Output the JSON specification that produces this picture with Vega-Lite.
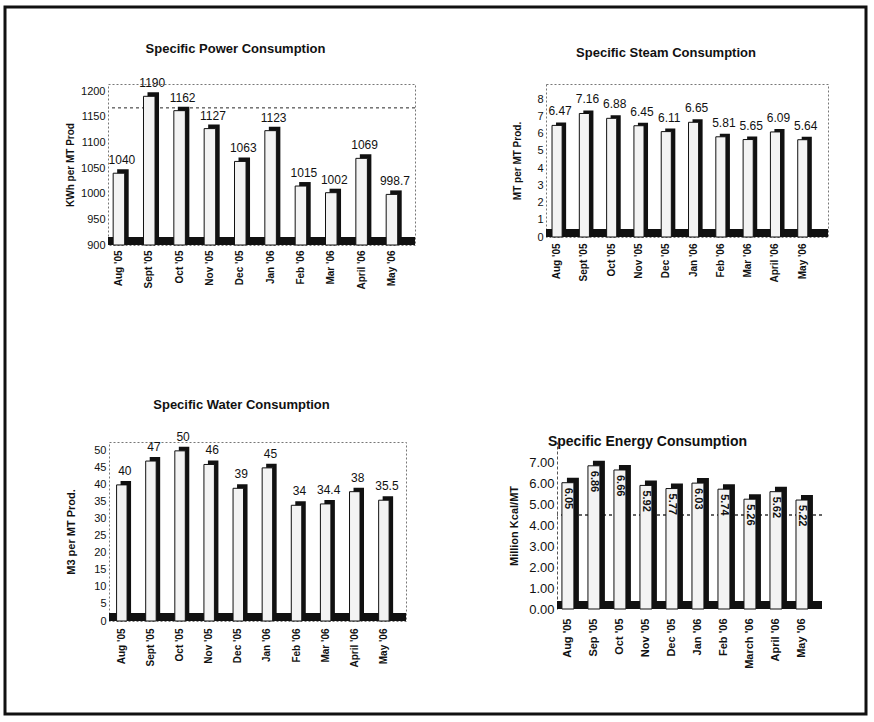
{
  "$schema": "https://vega.github.io/schema/vega-lite/v6.json",
  "background": "white",
  "padding": {"left": 5, "top": 7, "right": 3, "bottom": 3},
  "config": {
    "group": {"stroke": "#111", "strokeWidth": 3},
    "width": 861,
    "height": 707,
    "view": {"stroke": null},
    "font": "Liberation Sans",
    "axis": {"labelColor": "#111", "titleColor": "#111", "grid": false, "ticks": false, "domain": false, "labelOverlap": false},
    "axisX": {"labelAngle": -90, "labelFontWeight": "bold", "labelFontSize": 10, "labelPadding": 5},
    "axisY": {"labelFontSize": 11, "labelPadding": 3, "titleFontSize": 10, "titleFontWeight": "bold"},
    "title": {"font": "Liberation Sans", "fontSize": 13, "fontWeight": "bold", "color": "#111", "anchor": "middle"}
  },
  "datasets": {
    "power": [
      {"month": "Aug '05", "value": 1040},
      {"month": "Sept '05", "value": 1190},
      {"month": "Oct '05", "value": 1162},
      {"month": "Nov '05", "value": 1127},
      {"month": "Dec '05", "value": 1063},
      {"month": "Jan '06", "value": 1123},
      {"month": "Feb '06", "value": 1015},
      {"month": "Mar '06", "value": 1002},
      {"month": "April '06", "value": 1069},
      {"month": "May '06", "value": 998.7}
    ],
    "steam": [
      {"month": "Aug '05", "value": 6.47},
      {"month": "Sept '05", "value": 7.16},
      {"month": "Oct '05", "value": 6.88},
      {"month": "Nov '05", "value": 6.45},
      {"month": "Dec '05", "value": 6.11},
      {"month": "Jan '06", "value": 6.65},
      {"month": "Feb '06", "value": 5.81},
      {"month": "Mar '06", "value": 5.65},
      {"month": "April '06", "value": 6.09},
      {"month": "May '06", "value": 5.64}
    ],
    "water": [
      {"month": "Aug '05", "value": 40},
      {"month": "Sept '05", "value": 47},
      {"month": "Oct '05", "value": 50},
      {"month": "Nov '05", "value": 46},
      {"month": "Dec '05", "value": 39},
      {"month": "Jan '06", "value": 45},
      {"month": "Feb '06", "value": 34},
      {"month": "Mar '06", "value": 34.4},
      {"month": "April '06", "value": 38},
      {"month": "May '06", "value": 35.5}
    ],
    "energy": [
      {"month": "Aug '05", "value": 6.05},
      {"month": "Sep '05", "value": 6.86},
      {"month": "Oct '05", "value": 6.66},
      {"month": "Nov '05", "value": 5.92},
      {"month": "Dec '05", "value": 5.77},
      {"month": "Jan '06", "value": 6.03},
      {"month": "Feb '06", "value": 5.74},
      {"month": "March '06", "value": 5.26},
      {"month": "April '06", "value": 5.62},
      {"month": "May '06", "value": 5.22}
    ]
  },
  "spacing": 0,
  "vconcat": [
    {"width": 1, "height": 35, "data": {"values": []}, "mark": "point"},
    {
      "spacing": 0,
      "hconcat": [
        {"width": 60, "height": 1, "data": {"values": []}, "mark": "point"},
        {
          "width": 307,
          "height": 161,
          "data": {"name": "power"},
          "title": {"text": "Specific Power Consumption", "offset": 21, "dx": -26},
          "view": {"stroke": "#777", "strokeDash": [2, 2], "strokeWidth": 1},
          "layer": [
            {
              "mark": {"type": "rule", "color": "#777", "strokeDash": [3, 3], "strokeWidth": 1},
              "encoding": {"y": {"datum": 1168, "type": "quantitative", "title": "KWh per MT Prod",
                                 "scale": {"domain": [900, 1214], "clamp": true, "zero": false},
                                 "axis": {"values": [900, 950, 1000, 1050, 1100, 1150, 1200], "format": "d", "titlePadding": 5}}}
            },
            {
              "mark": {"type": "rule", "color": "#111", "strokeWidth": 8, "yOffset": -4},
              "encoding": {"y": {"datum": 900, "type": "quantitative", "title": "KWh per MT Prod",
                                 "scale": {"domain": [900, 1214], "clamp": true, "zero": false},
                                 "axis": {"values": [900, 950, 1000, 1050, 1100, 1150, 1200], "format": "d", "titlePadding": 5}}}
            },
            {
              "mark": {"type": "bar", "color": "#111", "xOffset": 4, "yOffset": -4},
              "encoding": {
                "x": {"field": "month", "type": "nominal", "sort": null, "title": null,
                      "scale": {"paddingInner": 0.62, "paddingOuter": 0.37, "align": 0.23}},
                "y": {"field": "value", "type": "quantitative", "title": "KWh per MT Prod",
                      "scale": {"domain": [900, 1214], "clamp": true, "zero": false},
                      "axis": {"values": [900, 950, 1000, 1050, 1100, 1150, 1200], "format": "d", "titlePadding": 5}}
              }
            },
            {
              "mark": {"type": "bar", "fill": "#f3f3f3", "stroke": "#111", "strokeWidth": 1},
              "encoding": {
                "x": {"field": "month", "type": "nominal", "sort": null, "title": null},
                "y": {"field": "value", "type": "quantitative", "title": "KWh per MT Prod",
                      "scale": {"domain": [900, 1214], "clamp": true, "zero": false},
                      "axis": {"values": [900, 950, 1000, 1050, 1100, 1150, 1200], "format": "d", "titlePadding": 5}}
              }
            },
            {
              "mark": {"type": "text", "baseline": "bottom", "dy": -6, "dx": 3, "fontSize": 12, "color": "#111"},
              "encoding": {
                "x": {"field": "month", "type": "nominal", "sort": null, "title": null},
                "y": {"field": "value", "type": "quantitative", "title": "KWh per MT Prod",
                      "scale": {"domain": [900, 1214], "clamp": true, "zero": false},
                      "axis": {"values": [900, 950, 1000, 1050, 1100, 1150, 1200], "format": "d", "titlePadding": 5}},
                "text": {"field": "value", "type": "nominal"}
              }
            }
          ]
        },
        {"width": 92, "height": 1, "data": {"values": []}, "mark": "point"},
        {
          "width": 282,
          "height": 153,
          "data": {"name": "steam"},
          "title": {"text": "Specific Steam Consumption", "offset": 24, "dx": -21},
          "view": {"stroke": "#777", "strokeDash": [2, 2], "strokeWidth": 1},
          "layer": [
            {
              "mark": {"type": "rule", "color": "#111", "strokeWidth": 8, "yOffset": -4},
              "encoding": {"y": {"datum": 0, "type": "quantitative", "title": "MT per MT Prod.",
                                 "scale": {"domain": [0, 8.87]},
                                 "axis": {"values": [0, 1, 2, 3, 4, 5, 6, 7, 8], "titlePadding": 14}}}
            },
            {
              "mark": {"type": "bar", "color": "#111", "xOffset": 4, "yOffset": -3},
              "encoding": {
                "x": {"field": "month", "type": "nominal", "sort": null, "title": null,
                      "scale": {"paddingInner": 0.63, "paddingOuter": 0.48, "align": 0.23},
                      "axis": {"labelPadding": 6}},
                "y": {"field": "value", "type": "quantitative", "title": "MT per MT Prod.",
                      "scale": {"domain": [0, 8.87]},
                      "axis": {"values": [0, 1, 2, 3, 4, 5, 6, 7, 8], "titlePadding": 14}}
              }
            },
            {
              "mark": {"type": "bar", "fill": "#f3f3f3", "stroke": "#111", "strokeWidth": 1},
              "encoding": {
                "x": {"field": "month", "type": "nominal", "sort": null, "title": null, "axis": {"labelPadding": 6}},
                "y": {"field": "value", "type": "quantitative", "title": "MT per MT Prod.",
                      "scale": {"domain": [0, 8.87]},
                      "axis": {"values": [0, 1, 2, 3, 4, 5, 6, 7, 8], "titlePadding": 14}}
              }
            },
            {
              "mark": {"type": "text", "baseline": "bottom", "dy": -7, "dx": 3, "fontSize": 12, "color": "#111"},
              "encoding": {
                "x": {"field": "month", "type": "nominal", "sort": null, "title": null, "axis": {"labelPadding": 6}},
                "y": {"field": "value", "type": "quantitative", "title": "MT per MT Prod.",
                      "scale": {"domain": [0, 8.87]},
                      "axis": {"values": [0, 1, 2, 3, 4, 5, 6, 7, 8], "titlePadding": 14}},
                "text": {"field": "value", "type": "nominal"}
              }
            }
          ]
        }
      ]
    },
    {"width": 1, "height": 108, "data": {"values": []}, "mark": "point"},
    {
      "spacing": 0,
      "hconcat": [
        {"width": 60, "height": 1, "data": {"values": []}, "mark": "point"},
        {
          "width": 297,
          "height": 179,
          "data": {"name": "water"},
          "title": {"text": "Specific Water Consumption", "offset": 19, "dx": -16},
          "view": {"stroke": "#777", "strokeDash": [2, 2], "strokeWidth": 1},
          "layer": [
            {
              "mark": {"type": "rule", "color": "#111", "strokeWidth": 8, "yOffset": -4},
              "encoding": {"y": {"datum": 0, "type": "quantitative", "title": "M3 per MT Prod.",
                                 "scale": {"domain": [0, 52.6]},
                                 "axis": {"values": [0, 5, 10, 15, 20, 25, 30, 35, 40, 45, 50], "titlePadding": 17, "titleFontSize": 11}}}
            },
            {
              "mark": {"type": "bar", "color": "#111", "xOffset": 4, "yOffset": -4},
              "encoding": {
                "x": {"field": "month", "type": "nominal", "sort": null, "title": null,
                      "scale": {"paddingInner": 0.64, "paddingOuter": 0.42, "align": 0.31},
                      "axis": {"labelPadding": 7}},
                "y": {"field": "value", "type": "quantitative", "title": "M3 per MT Prod.",
                      "scale": {"domain": [0, 52.6]},
                      "axis": {"values": [0, 5, 10, 15, 20, 25, 30, 35, 40, 45, 50], "titlePadding": 17, "titleFontSize": 11}}
              }
            },
            {
              "mark": {"type": "bar", "fill": "#f3f3f3", "stroke": "#111", "strokeWidth": 1},
              "encoding": {
                "x": {"field": "month", "type": "nominal", "sort": null, "title": null, "axis": {"labelPadding": 7}},
                "y": {"field": "value", "type": "quantitative", "title": "M3 per MT Prod.",
                      "scale": {"domain": [0, 52.6]},
                      "axis": {"values": [0, 5, 10, 15, 20, 25, 30, 35, 40, 45, 50], "titlePadding": 17, "titleFontSize": 11}}
              }
            },
            {
              "mark": {"type": "text", "baseline": "bottom", "dy": -7, "dx": 3, "fontSize": 12, "color": "#111"},
              "encoding": {
                "x": {"field": "month", "type": "nominal", "sort": null, "title": null, "axis": {"labelPadding": 7}},
                "y": {"field": "value", "type": "quantitative", "title": "M3 per MT Prod.",
                      "scale": {"domain": [0, 52.6]},
                      "axis": {"values": [0, 5, 10, 15, 20, 25, 30, 35, 40, 45, 50], "titlePadding": 17, "titleFontSize": 11}},
                "text": {"field": "value", "type": "nominal"}
              }
            }
          ]
        },
        {"width": 97, "height": 1, "data": {"values": []}, "mark": "point"},
        {
          "width": 265,
          "height": 167,
          "data": {"name": "energy"},
          "title": {"text": "Specific Energy Consumption", "offset": -7, "dx": -42, "fontSize": 14},
          "layer": [
            {
              "mark": {"type": "rule", "color": "#666", "strokeDash": [3, 3], "strokeWidth": 1},
              "encoding": {"y": {"datum": 4.5, "type": "quantitative", "title": "Million Kcal/MT",
                                 "scale": {"domain": [0, 8]},
                                 "axis": {"values": [0, 1, 2, 3, 4, 5, 6, 7], "format": ".2f", "labelFontSize": 13,
                                          "domain": true, "domainDash": [3, 2], "domainColor": "#555",
                                          "titlePadding": 9, "titleFontSize": 11}}}
            },
            {
              "mark": {"type": "rule", "color": "#111", "strokeWidth": 8, "yOffset": -4},
              "encoding": {"y": {"datum": 0, "type": "quantitative", "title": "Million Kcal/MT",
                                 "scale": {"domain": [0, 8]},
                                 "axis": {"values": [0, 1, 2, 3, 4, 5, 6, 7], "format": ".2f", "labelFontSize": 13,
                                          "domain": true, "domainDash": [3, 2], "domainColor": "#555",
                                          "titlePadding": 9, "titleFontSize": 11}}}
            },
            {
              "mark": {"type": "bar", "color": "#111", "xOffset": 5, "yOffset": -5},
              "encoding": {
                "x": {"field": "month", "type": "nominal", "sort": null, "title": null,
                      "scale": {"paddingInner": 0.54, "paddingOuter": 0.365, "align": 0.26},
                      "axis": {"labelPadding": 9, "labelFontSize": 11}},
                "y": {"field": "value", "type": "quantitative", "title": "Million Kcal/MT",
                      "scale": {"domain": [0, 8]},
                      "axis": {"values": [0, 1, 2, 3, 4, 5, 6, 7], "format": ".2f", "labelFontSize": 13,
                               "domain": true, "domainDash": [3, 2], "domainColor": "#555",
                               "titlePadding": 9, "titleFontSize": 11}}
              }
            },
            {
              "mark": {"type": "bar", "fill": "#f3f3f3", "stroke": "#111", "strokeWidth": 1},
              "encoding": {
                "x": {"field": "month", "type": "nominal", "sort": null, "title": null, "axis": {"labelPadding": 9, "labelFontSize": 11}},
                "y": {"field": "value", "type": "quantitative", "title": "Million Kcal/MT",
                      "scale": {"domain": [0, 8]},
                      "axis": {"values": [0, 1, 2, 3, 4, 5, 6, 7], "format": ".2f", "labelFontSize": 13,
                               "domain": true, "domainDash": [3, 2], "domainColor": "#555",
                               "titlePadding": 9, "titleFontSize": 11}}
              }
            },
            {
              "mark": {"type": "text", "angle": 90, "align": "left", "baseline": "middle", "dx": 5, "fontSize": 11, "fontWeight": "bold", "color": "#111"},
              "encoding": {
                "x": {"field": "month", "type": "nominal", "sort": null, "title": null, "axis": {"labelPadding": 9, "labelFontSize": 11}},
                "y": {"field": "value", "type": "quantitative", "title": "Million Kcal/MT",
                      "scale": {"domain": [0, 8]},
                      "axis": {"values": [0, 1, 2, 3, 4, 5, 6, 7], "format": ".2f", "labelFontSize": 13,
                               "domain": true, "domainDash": [3, 2], "domainColor": "#555",
                               "titlePadding": 9, "titleFontSize": 11}},
                "text": {"field": "value", "type": "nominal"}
              }
            }
          ]
        }
      ]
    }
  ]
}
